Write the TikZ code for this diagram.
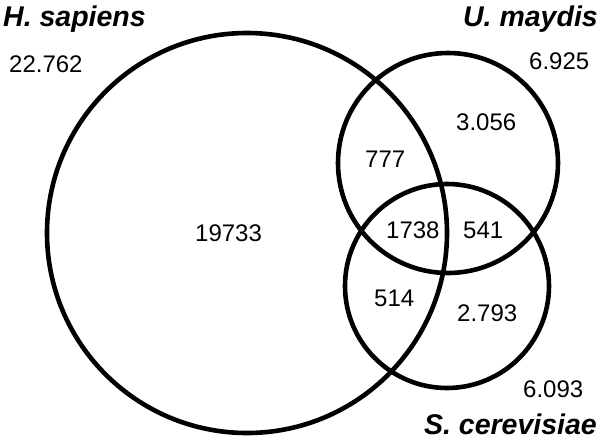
\documentclass[tikz,border=0pt]{standalone}
\usepackage{fontspec}
\setmainfont{Liberation Sans}
\begin{document}
\begin{tikzpicture}[x=1pt,y=-1pt,
  ring/.style={draw=black,line width=4.6pt},
  num/.style={inner sep=0pt,font=\fontsize{24}{28}\selectfont},
  species/.style={inner sep=0pt,font=\fontsize{28.5}{33}\selectfont\bfseries\itshape}]
\useasboundingbox (0,0) rectangle (600,439);
\draw[ring] (247,233) circle[radius=200];
\draw[ring] (448,163) circle[radius=110];
\draw[ring] (447,286) circle[radius=102];
\node[species,anchor=base west] (hs) at (3,26) {H. sapiens};
\node[species,anchor=base east] (um) at (598,26) {U. maydis};
\node[species,anchor=base east] (sc) at (597,434) {S. cerevisiae};
\node[num,anchor=base west] (nhs) at (9,72) {22.762};
\node[num,anchor=base west] (num) at (529,69) {6.925};
\node[num,anchor=base west] (nsc) at (523,397) {6.093};
\node[num,anchor=base west] (a) at (195,241) {19733};
\node[num,anchor=base west] (b) at (456,130) {3.056};
\node[num,anchor=base west] (c) at (365,167) {777};
\node[num,anchor=base west] (d) at (386,238) {1738};
\node[num,anchor=base west] (e) at (463,238) {541};
\node[num,anchor=base west] (f) at (374,306) {514};
\node[num,anchor=base west] (g) at (457,321) {2.793};
\end{tikzpicture}
\end{document}
